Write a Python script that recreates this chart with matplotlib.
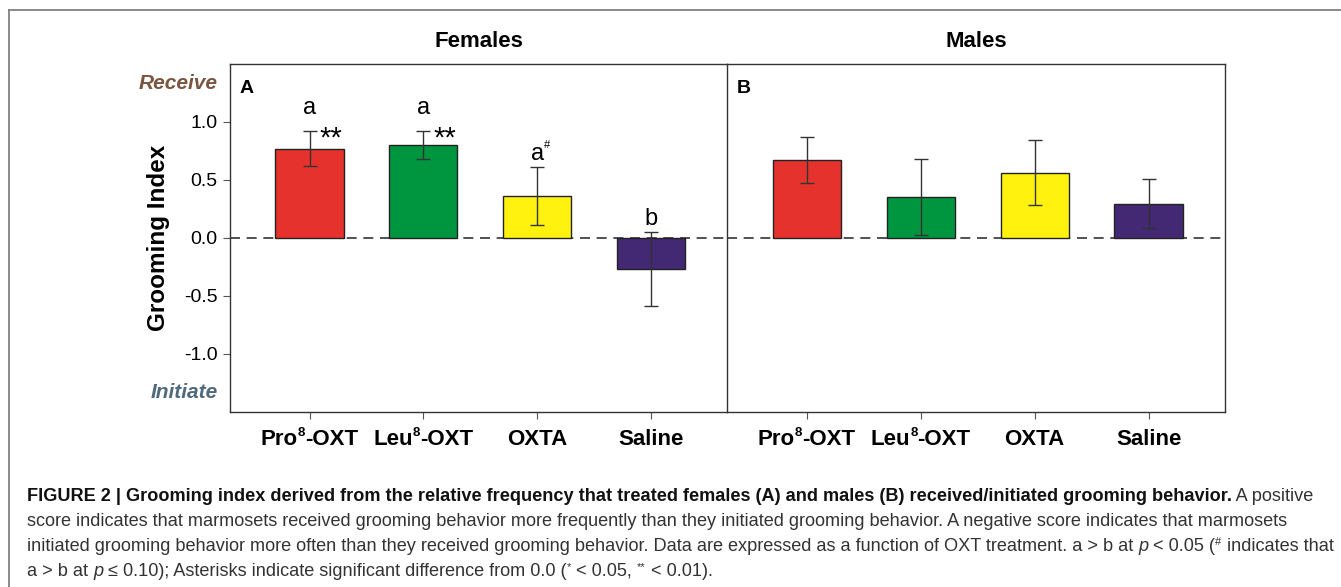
import numpy as np
import matplotlib
matplotlib.use("Agg")
import matplotlib.pyplot as plt
from matplotlib.lines import Line2D

plt.rcParams['font.family'] = ['Liberation Sans', 'DejaVu Sans']

# ---- data ----
# (prefix, superscript, suffix) for each treatment label
treatments = [("Pro", "8", "-OXT"), ("Leu", "8", "-OXT"), ("OXTA", "", ""), ("Saline", "", "")]
bar_colors = ["#e5322d", "#009640", "#fff20f", "#432874"]

females_mean = [0.77, 0.80, 0.36, -0.27]
females_sem = [0.15, 0.12, 0.25, 0.32]
males_mean = [0.675, 0.353, 0.564, 0.296]
males_sem = [0.20, 0.33, 0.28, 0.21]

# group letters and significance marks for females
female_letters = ["a", "a", "a", "b"]
female_letter_sup = ["", "", "#", ""]
female_stars = ["**", "**", "", ""]

W, H = 1341, 587
fig = plt.figure(figsize=(W / 100, H / 100), dpi=100)
renderer = fig.canvas.get_renderer()

def px_axes(x0, y0, x1, y1):
    # pixel box (top-left origin) -> figure fraction axes
    return fig.add_axes([x0 / W, 1 - y1 / H, (x1 - x0) / W, (y1 - y0) / H])

axA = px_axes(230, 64, 727, 412)
axB = px_axes(727, 64, 1225, 412)
axB.patch.set_visible(False)

def text_width(s, **kw):
    t = fig.text(0, 0, s, **kw)
    w = t.get_window_extent(renderer).width
    t.remove()
    return w

def xlabel_runs(ax, xpos, parts, y_px=445, size=16):
    pre, sup, post = parts
    main = dict(fontsize=size, fontweight="bold")
    small = dict(fontsize=size * 0.6, fontweight="bold")
    widths = [text_width(pre, **main), text_width(sup, **small) if sup else 0,
              text_width(post, **main) if post else 0]
    xc = ax.transData.transform((xpos, 0))[0]
    x0 = xc - sum(widths) / 2
    yb = 1 - y_px / H
    fig.text(x0 / W, yb, pre, va="baseline", **main)
    if sup:
        fig.text((x0 + widths[0]) / W, yb + 9 / H, sup, va="baseline", **small)
    if post:
        fig.text((x0 + widths[0] + widths[1]) / W, yb, post, va="baseline", **main)

x = np.arange(len(treatments))
for ax, means, sems in [(axA, females_mean, females_sem), (axB, males_mean, males_sem)]:
    ax.axhline(0, color="#333333", lw=1.2, ls=(0, (6, 4)), zorder=1)
    ax.bar(x, means, width=0.6, color=bar_colors, edgecolor="#222222", linewidth=1.0, zorder=2)
    ax.errorbar(x, means, yerr=sems, fmt="none", ecolor="#333333", elinewidth=1.0,
                capsize=5, capthick=1.0, zorder=3)
    ax.set_xlim(-0.7, 3.67)
    ax.set_ylim(-1.5, 1.5)
    ax.set_xticks(x)
    ax.set_xticklabels([])
    ax.tick_params(axis="x", direction="out", length=5, width=0.8, color="#555555")
    for s in ax.spines.values():
        s.set_color("#333333")
        s.set_linewidth(1.0)
    for i, parts in enumerate(treatments):
        xlabel_runs(ax, x[i], parts)

axA.set_yticks([-1.0, -0.5, 0.0, 0.5, 1.0])
axA.set_yticklabels(["-1.0", "-0.5", "0.0", "0.5", "1.0"], fontsize=14)
axA.tick_params(axis="y", direction="out", length=5, width=0.8, color="#555555", pad=4)
axA.set_ylabel("Grooming Index", fontsize=17.5, fontweight="bold", labelpad=10)
axB.set_yticks([])
axB.spines["left"].set_visible(False)

axA.set_title("Females", fontsize=16, fontweight="bold", pad=12)
axB.set_title("Males", fontsize=16, fontweight="bold", pad=12)

axA.text(0.02, 0.955, "A", transform=axA.transAxes, fontsize=14, fontweight="bold", va="top")
axB.text(0.02, 0.955, "B", transform=axB.transAxes, fontsize=14, fontweight="bold", va="top")

axA.text(-0.025, 0.945, "Receive", transform=axA.transAxes, ha="right", va="center",
         fontsize=15, fontweight="bold", style="italic", color="#7a5541")
axA.text(-0.025, 0.055, "Initiate", transform=axA.transAxes, ha="right", va="center",
         fontsize=15, fontweight="bold", style="italic", color="#4f6a7d")

for i in range(len(treatments)):
    top = max(females_mean[i] + females_sem[i], 0)
    gap = 0.15 if female_stars[i] else 0.06
    axA.text(x[i], top + gap, female_letters[i], ha="center", va="baseline", fontsize=17)
    if female_letter_sup[i]:
        axA.annotate(female_letter_sup[i], (x[i], top + gap), xytext=(5, 9),
                     textcoords="offset points", fontsize=8, va="baseline", ha="left")
    if female_stars[i]:
        axA.text(x[i] + 0.09, top - 0.06, female_stars[i], ha="left", va="center",
                 fontsize=21)

# outer frame of the figure box
fig.add_artist(Line2D([9 / W, 1], [1 - 10 / H] * 2, color="#777777", lw=1.2))
fig.add_artist(Line2D([9 / W] * 2, [1 - 10 / H, 0], color="#777777", lw=1.2))

# ---- caption ----
cap_size = 13.1
cap_color = "#333333"

def runs(y_px, pieces, x_px=27):
    xf = x_px / W
    for txt, kw in pieces:
        props = dict(fontsize=cap_size, color=cap_color, va="baseline")
        dy = kw.pop("dy", 0)
        props.update(kw)
        t = fig.text(xf, 1 - (y_px - dy) / H, txt, **props)
        bb = t.get_window_extent(renderer)
        xf += bb.width / W

runs(501, [("FIGURE 2 | Grooming index derived from the relative frequency that treated females (A) and males (B) received/initiated grooming behavior.",
            dict(fontweight="bold", color="#111111")),
           ("\u2009A positive", {})])
runs(526, [("score indicates that marmosets received grooming behavior more frequently than they initiated grooming behavior. A negative score indicates that marmosets", {})])
runs(551, [("initiated grooming behavior more often than they received grooming behavior. Data are expressed as a function of OXT treatment. a > b at ", {}),
           ("p", dict(style="italic")),
           (" < 0.05 (", {}),
           ("#", dict(fontsize=8, dy=6)),
           (" indicates that", {})])
runs(576, [("a > b at ", {}),
           ("p", dict(style="italic")),
           (" \u2264 0.10); Asterisks indicate significant difference from 0.0 (", {}),
           ("*", dict(fontsize=8, dy=6)),
           (" < 0.05, ", {}),
           ("**", dict(fontsize=8, dy=6)),
           (" < 0.01).", {})])

fig.savefig("out.png", dpi=100)
